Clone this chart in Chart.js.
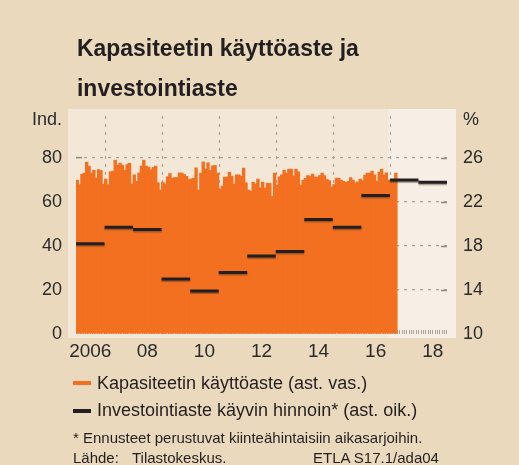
<!DOCTYPE html>
<html>
<head>
<meta charset="utf-8">
<script src="https://cdn.jsdelivr.net/npm/chart.js@4.4.0/dist/chart.umd.min.js"></script>
<style>
  html, body { margin: 0; padding: 0; }
  body { width: 519px; height: 465px; background: #ead9bd; position: relative; overflow: hidden;
         font-family: "Liberation Sans", Arial, sans-serif; color: #231f20; }
  #c { position: absolute; left: 0; top: 0; }
  .t { position: absolute; white-space: nowrap; line-height: 1; }
  .title { font-family: "Liberation Sans", Arial, sans-serif; font-weight: bold; font-size: 24px; left: 77px;
           transform-origin: 0 0; }
  .axt { font-size: 18px; color: #2b2b2b; }
  .leg { font-size: 18px; left: 97px; }
  .key { position: absolute; left: 73px; width: 18px; height: 4px; }
  .note { font-size: 15px; }
</style>
</head>
<body>
<canvas id="c" width="519" height="465"></canvas>
<div class="t title" id="t1" style="top:36px">Kapasiteetin käyttöaste ja</div>
<div class="t title" id="t2" style="top:76px">investointiaste</div>
<div class="t axt" style="top:110px; right:457px">Ind.</div>
<div class="t axt" style="top:110px; left:463px">%</div>
<div class="key" style="top:381px; background:#f37021"></div>
<div class="t leg" style="top:374px">Kapasiteetin käyttöaste (ast. vas.)</div>
<div class="key" style="top:409px; background:#231f20"></div>
<div class="t leg" style="top:401px">Investointiaste käyvin hinnoin* (ast. oik.)</div>
<div class="t note" style="top:430px; left:73px">* Ennusteet perustuvat kiinteähintaisiin aikasarjoihin.</div>
<div class="t note" style="top:450px; left:73px">Lähde:</div>
<div class="t note" style="top:450px; left:132px">Tilastokeskus.</div>
<div class="t note" style="top:450px; left:313px">ETLA S17.1/ada04</div>
<script>
// capacity utilisation, monthly from Jan 2006 (index)
var startYear = 2006;
var utilization = [
  70.0, 68.0, 72.7, 73.2, 78.2, 76.4, 73.2, 74.5, 70.9, 74.8, 74.4, 68.2,
  70.5, 68.0, 73.8, 74.1, 79.1, 76.8, 77.7, 76.8, 74.5, 77.1, 77.6, 68.2,
  72.4, 69.5, 73.3, 76.4, 79.1, 76.4, 75.9, 74.7, 75.8, 76.4, 68.8, 65.5,
  69.1, 68.3, 71.5, 73.0, 70.9, 71.2, 71.2, 73.3, 73.2, 72.6, 71.7, 70.3,
  70.6, 70.9, 75.6, 65.5, 73.2, 78.3, 75.0, 77.9, 74.5, 76.5, 76.7, 73.2,
  65.9, 67.3, 71.4, 71.4, 73.6, 71.8, 68.2, 72.4, 72.4, 71.8, 75.5, 68.8,
  65.5, 65.0, 69.0, 68.3, 70.5, 66.5, 69.1, 66.4, 68.5, 68.5, 62.6, 73.2,
  67.7, 71.5, 72.4, 74.5, 73.2, 75.0, 75.0, 72.0, 75.0, 73.8, 67.7, 70.0,
  70.8, 72.1, 71.7, 72.7, 71.4, 71.4, 72.1, 73.2, 72.1, 70.3, 69.8, 67.0,
  68.0, 70.9, 70.9, 70.0, 69.4, 69.0, 69.5, 71.2, 70.0, 68.8, 69.2, 70.5,
  69.8, 72.3, 73.2, 73.2, 74.1, 72.4, 69.5, 73.6, 75.0, 72.3, 73.3, 70.0,
  69.5, 69.8, 73.2
];

// investment rate at current prices, % (yearly)
var rateYears = [2006, 2007, 2008, 2009, 2010, 2011, 2012, 2013, 2014, 2015, 2016, 2017, 2018];
var investRate = [18.2, 19.7, 19.5, 15.0, 13.9, 15.6, 17.1, 17.5, 20.4, 19.7, 22.6, 24.0, 23.8];

var forecastFrom = 2017;
var labelYears = [2006, 2008, 2010, 2012, 2014, 2016, 2018];
var yearLabels = ['2006', '08', '10', '12', '14', '16', '18'];
var gridYears = [2007, 2009, 2011, 2013, 2015, 2017];
var leftTicks = [0, 20, 40, 60, 80];
var rightTicks = [10, 14, 18, 22, 26];

var tickFont = { family: '"Liberation Sans", Arial, sans-serif', size: 18 };
var tickColor = '#2b2b2b';
var gridColor = '#aaa59d';
var markColor = '#8f8a83';

// squeeze the bold title into a condensed look
var t1 = document.getElementById('t1'), t2 = document.getElementById('t2');
var squeeze = 282 / t1.offsetWidth;
t1.style.transform = t2.style.transform = 'scaleX(' + squeeze + ')';

var barPoints = utilization.map(function (v, i) {
  return { x: startYear + (i + 0.5) / 12, y: v };
});

// one flat segment per year, broken by a null point
var ratePoints = [];
rateYears.forEach(function (yr, i) {
  ratePoints.push({ x: yr, y: investRate[i] }, { x: yr + 1, y: investRate[i] }, { x: yr + 1, y: null });
});

// plot panel and lighter forecast area
var panelBg = {
  id: 'panelBg',
  beforeDraw: function (chart) {
    var a = chart.chartArea, ctx = chart.ctx;
    var fx = chart.scales.x.getPixelForValue(forecastFrom) - 1.5;
    ctx.save();
    ctx.fillStyle = '#f3e8d7';
    ctx.fillRect(a.left - 8, a.top - 5, a.right - a.left + 17, a.bottom - a.top + 9);
    ctx.fillStyle = '#f7efe6';
    ctx.fillRect(fx, a.top - 5, a.right + 9 - fx, a.bottom - a.top + 9);
    ctx.restore();
  }
};

// dotted lines at every other year boundary, behind the bars
var yearGrid = {
  id: 'yearGrid',
  beforeDatasetsDraw: function (chart) {
    var a = chart.chartArea, ctx = chart.ctx, x = chart.scales.x;
    ctx.save();
    ctx.strokeStyle = gridColor;
    ctx.lineWidth = 1.2;
    ctx.setLineDash([3, 5]);
    gridYears.forEach(function (yr) {
      var px = Math.round(x.getPixelForValue(yr)) + 0.5;
      ctx.beginPath();
      ctx.moveTo(px, a.top + 2);
      ctx.lineTo(px, a.bottom);
      ctx.stroke();
    });
    ctx.restore();
  }
};

var lineShadow = {
  id: 'lineShadow',
  beforeDatasetDraw: function (chart, args) {
    if (chart.data.datasets[args.index].type !== 'line') return;
    var ctx = chart.ctx;
    ctx.save();
    ctx.shadowColor = 'rgba(70,50,30,0.45)';
    ctx.shadowOffsetY = 1.5;
    ctx.shadowBlur = 1;
  },
  afterDatasetDraw: function (chart, args) {
    if (chart.data.datasets[args.index].type !== 'line') return;
    chart.ctx.restore();
  }
};

new Chart(document.getElementById('c'), {
  type: 'bar',
  data: {
    datasets: [{
      type: 'line',
      label: 'Investointiaste käyvin hinnoin* (ast. oik.)',
      data: ratePoints,
      xAxisID: 'x',
      yAxisID: 'y2',
      borderColor: '#231f20',
      borderWidth: 3,
      borderCapStyle: 'butt',
      pointRadius: 0,
      spanGaps: false,
      order: 0
    }, {
      type: 'bar',
      label: 'Kapasiteetin käyttöaste (ast. vas.)',
      data: barPoints,
      xAxisID: 'x',
      yAxisID: 'y',
      backgroundColor: '#f37021',
      borderWidth: 0,
      // a little overlap so the monthly bars merge into one solid area
      barThickness: 3,
      inflateAmount: 0.2,
      order: 1
    }]
  },
  options: {
    responsive: false,
    animation: false,
    events: [],
    layout: { padding: { top: 114, bottom: 101, left: 0, right: 0 } },
    plugins: { legend: { display: false }, tooltip: { enabled: false } },
    scales: {
      x: {
        type: 'linear', position: 'bottom', weight: 1, min: 2006, max: 2019, offset: false,
        afterBuildTicks: function (s) { s.ticks = labelYears.map(function (y) { return { value: y + 0.5 }; }); },
        afterFit: function (s) { s.height = 30; },
        grid: { display: false, drawTicks: false, offset: false },
        border: { display: false },
        ticks: {
          autoSkip: false, maxRotation: 0, padding: 6, color: tickColor,
          font: { family: tickFont.family, size: 19 },
          callback: function (v, i) { return yearLabels[i]; }
        }
      },
      xm: {
        type: 'linear', position: 'bottom', weight: 0, min: 2006, max: 2019,
        afterBuildTicks: function (s) {
          var t = [];
          for (var m = 0; m <= 156; m++) t.push({ value: 2006 + m / 12 });
          s.ticks = t;
        },
        afterFit: function (s) { s.height = 0; },
        ticks: { display: false },
        border: { display: false },
        grid: { drawOnChartArea: false, drawTicks: true, tickLength: -4, tickColor: '#a8a39c', tickWidth: 1 }
      },
      y: {
        type: 'linear', position: 'left', min: 0, max: 100,
        afterBuildTicks: function (s) { s.ticks = leftTicks.map(function (v) { return { value: v }; }); },
        afterFit: function (s) { s.width = 76; },
        // in v4 the grid line dash lives under border
        border: { display: false, dash: [3, 5] },
        grid: {
          color: function (c) { return c.tick && c.tick.value === 0 ? 'transparent' : gridColor; },
          lineWidth: 1.2,
          tickLength: -6, tickWidth: 1.5, tickBorderDash: [],
          tickColor: function (c) { return c.tick && c.tick.value === 0 ? 'transparent' : markColor; }
        },
        ticks: { padding: 20, color: tickColor, font: tickFont }
      },
      y2: {
        type: 'linear', position: 'right', min: 10, max: 30,
        afterBuildTicks: function (s) { s.ticks = rightTicks.map(function (v) { return { value: v }; }); },
        afterFit: function (s) { s.width = 72; },
        border: { display: false },
        grid: {
          drawOnChartArea: false, tickLength: -6, tickWidth: 1.5,
          tickColor: function (c) { return c.tick && c.tick.value === 10 ? 'transparent' : markColor; }
        },
        ticks: { padding: 22, color: tickColor, font: tickFont }
      }
    }
  },
  plugins: [panelBg, yearGrid, lineShadow]
});
</script>
</body>
</html>
